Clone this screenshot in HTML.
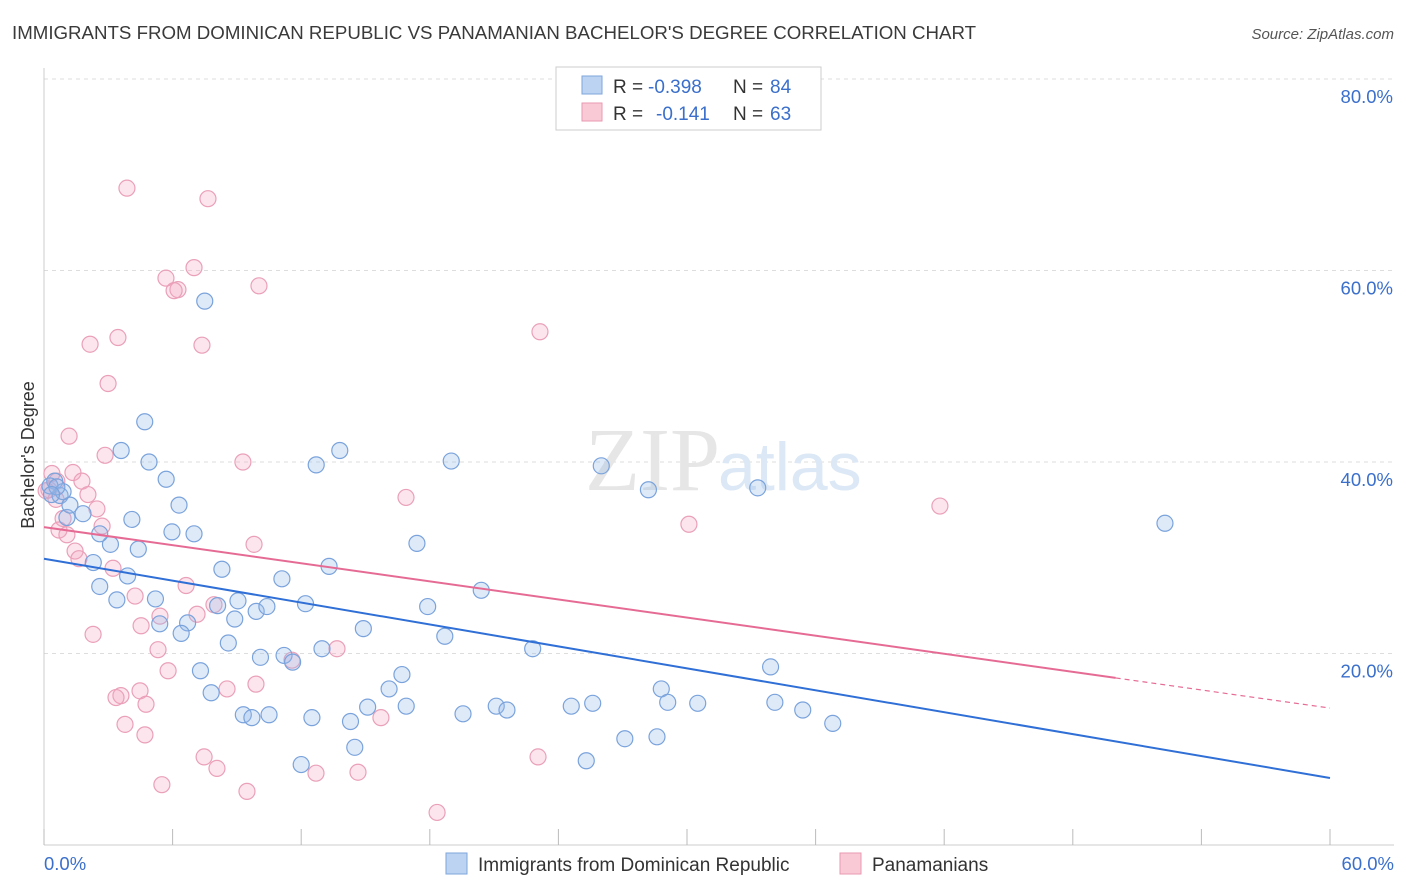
<!DOCTYPE html>
<html><head><meta charset="utf-8"><style>
body{margin:0;background:#fff;font-family:"Liberation Sans",sans-serif;}
svg{display:block}
</style></head><body>
<svg width="1406" height="892" xmlns="http://www.w3.org/2000/svg">
<text x="12" y="39" font-size="18.7" fill="#3a3a3a">IMMIGRANTS FROM DOMINICAN REPUBLIC VS PANAMANIAN BACHELOR'S DEGREE CORRELATION CHART</text>
<text x="1394" y="39" font-size="15" fill="#555" text-anchor="end" font-style="italic">Source: ZipAtlas.com</text>
<g id="grid"></g>
<text x="720" y="490" font-size="90" fill="#e6e6e6" font-family="Liberation Serif,serif" text-anchor="end">ZIP</text>
<text x="718" y="490" font-size="68" fill="#dce8f5">atlas</text>
<text x="34" y="455" font-size="18" fill="#333" text-anchor="middle" transform="rotate(-90 34 455)">Bachelor's Degree</text>
<g id="pts"></g>
<g id="lines"></g>
<g>
<rect x="556" y="67" width="265" height="63" fill="#fff" stroke="#ccc"/>
<rect x="582" y="76" width="20" height="18" fill="#bcd4f2" stroke="#7ea6dc"/>
<rect x="582" y="103" width="20" height="18" fill="#f9c9d6" stroke="#e79ab2"/>
<text x="613" y="93" font-size="19" fill="#333">R =</text>
<text x="648" y="93" font-size="19" fill="#3a6fcb">-0.398</text>
<text x="733" y="93" font-size="19" fill="#333">N =</text>
<text x="770" y="93" font-size="19" fill="#3a6fcb">84</text>
<text x="613" y="120" font-size="19" fill="#333">R =</text>
<text x="656" y="120" font-size="19" fill="#3a6fcb">-0.141</text>
<text x="733" y="120" font-size="19" fill="#333">N =</text>
<text x="770" y="120" font-size="19" fill="#3a6fcb">63</text>
</g>
<g>
<rect x="446" y="853" width="21" height="21" fill="#bcd4f2" stroke="#7ea6dc"/>
<text x="478" y="871" font-size="19" fill="#333">Immigrants from Dominican Republic</text>
<rect x="840" y="853" width="21" height="21" fill="#f9c9d6" stroke="#e79ab2"/>
<text x="872" y="871" font-size="19" fill="#333">Panamanians</text>
</g>
</svg>
<script>
const xTicks=[0,6,12,18,24,30,36,42,48,54,60];
const yTicks=[20,40,60,80];
const blueX=[7.5,4.7,3.6,4.9,5.7,6.3,4.1,5.97,7.0,3.1,4.4,2.6,2.3,3.9,8.3,2.6,3.4,5.2,6.7,6.4,5.4,8.6,8.9,9.05,8.1,9.9,10.4,11.1,12.2,13.3,12.7,13.8,19.0,17.4,17.9,20.4,18.7,14.9,12.97,11.2,10.1,11.6,7.3,7.8,9.3,9.7,10.5,12.5,14.3,15.1,16.1,16.7,16.9,19.55,21.1,21.6,22.8,24.6,25.6,27.1,28.6,28.8,29.1,30.5,14.5,12.0,25.3,26.0,28.2,33.3,33.9,34.1,35.4,36.8,52.3,0.5,0.75,1.07,1.21,1.82,0.28,0.89,0.6,0.35];
const blueY=[56.8,44.2,41.2,40.0,38.2,35.5,34.0,32.7,32.5,31.4,30.9,32.5,29.5,28.1,28.8,27.0,25.6,25.7,23.2,22.1,23.1,21.1,23.6,25.5,25.0,24.4,24.9,27.8,25.2,29.1,39.7,41.2,40.1,31.5,24.9,26.6,21.8,22.6,20.5,19.8,19.6,19.1,18.2,15.9,13.6,13.3,13.6,13.3,12.9,14.4,16.3,17.8,14.5,13.7,14.5,14.1,20.5,14.5,14.8,11.1,11.3,16.3,14.9,14.8,10.2,8.4,8.8,39.6,37.1,37.3,18.6,14.9,14.1,12.7,33.6,38.0,36.5,34.2,35.5,34.6,37.5,36.9,37.4,36.6];
const pinkX=[3.87,7.65,5.69,7.0,6.25,10.03,6.07,2.15,3.45,7.37,23.14,2.99,1.17,2.85,9.28,1.35,1.77,2.05,0.37,0.23,0.56,2.47,2.71,0.89,0.7,1.07,1.45,1.63,3.22,9.8,6.63,4.25,7.93,7.14,5.41,4.53,2.29,5.32,13.67,5.79,8.54,9.89,4.48,3.59,3.36,4.76,3.78,4.71,7.47,8.07,12.69,14.65,5.5,9.47,18.34,15.72,16.89,30.09,41.8,23.05,11.57,0.1,0.6];
const pinkY=[68.6,67.5,59.2,60.3,58.0,58.4,57.9,52.3,53.0,52.2,53.6,48.2,42.7,40.7,40.0,38.9,38.0,36.6,38.8,37.1,36.1,35.1,33.3,34.1,32.9,32.4,30.7,29.9,28.9,31.4,27.1,26.0,25.1,24.1,23.9,22.9,22.0,20.4,20.5,18.2,16.3,16.8,16.1,15.6,15.4,14.7,12.6,11.5,9.2,8.0,7.5,7.6,6.3,5.6,3.4,13.3,36.3,33.5,35.4,9.2,19.3,37.0,38.0];
const blueLine=[29.9,7.0], pinkLine=[33.2,14.3], pinkSolidEnd=50;
const X0=44,X1=1330,Y0=845,YS=191.5/20;
const sx=v=>X0+(X1-X0)*v/60, sy=v=>Y0-v*YS;
const NS="http://www.w3.org/2000/svg";
function mk(t,a,p){const e=document.createElementNS(NS,t);for(const k in a)e.setAttribute(k,a[k]);p.appendChild(e);return e;}
const g=document.getElementById('grid');
yTicks.forEach(v=>{
 const l=mk('line',{x1:44,x2:1394,y1:sy(v),y2:sy(v),stroke:'#ddd','stroke-dasharray':'4,4'},g);
 
 
 const t=mk('text',{x:1393,y:sy(v)+24,'font-size':18.5,fill:'#3a6fcb','text-anchor':'end'},g);t.textContent=v.toFixed(1)+'%';
 
 
});
mk('line',{x1:44,x2:44,y1:68,y2:845,stroke:'#ccc'},g);
mk('line',{x1:44,x2:1394,y1:845,y2:845,stroke:'#ccc'},g);
xTicks.forEach(v=>{const l=mk('line',{x1:sx(v),x2:sx(v),y1:829,y2:845,stroke:'#bbb'},g);
 
 });
[[0,'0.0%',44,'start'],[60,'60.0%',1394,'end']].forEach(([v,s,x,a])=>{const t=mk('text',{x:x,y:870,'font-size':18.5,fill:'#3a6fcb','text-anchor':a},g);t.textContent=s;
 
 });
const p=document.getElementById('pts');
pinkX.forEach((x,i)=>{const c=mk('circle',{cx:sx(x),cy:sy(pinkY[i]),r:8,fill:'rgba(245,170,195,0.3)',stroke:'#eaa0b8','stroke-width':1.2},p);
 
 });
blueX.forEach((x,i)=>{const c=mk('circle',{cx:sx(x),cy:sy(blueY[i]),r:8,fill:'rgba(150,185,235,0.3)',stroke:'#7aa3dc','stroke-width':1.2},p);
 
 });
const L=document.getElementById('lines');
const bl=mk('line',{x1:sx(0),y1:sy(blueLine[0]),x2:sx(60),y2:sy(blueLine[1]),stroke:'#2f6fd6','stroke-width':2},L);


const pv=x=>pinkLine[0]+(pinkLine[1]-pinkLine[0])*x/60;
const pl=mk('line',{x1:sx(0),y1:sy(pv(0)),x2:sx(pinkSolidEnd),y2:sy(pv(pinkSolidEnd)),stroke:'#e66b94','stroke-width':2},L);


const pd=mk('line',{x1:sx(pinkSolidEnd),y1:sy(pv(pinkSolidEnd)),x2:sx(60),y2:sy(pv(60)),stroke:'#e66b94','stroke-width':1.2,'stroke-dasharray':'5,4'},L);


</script>
</body></html>
